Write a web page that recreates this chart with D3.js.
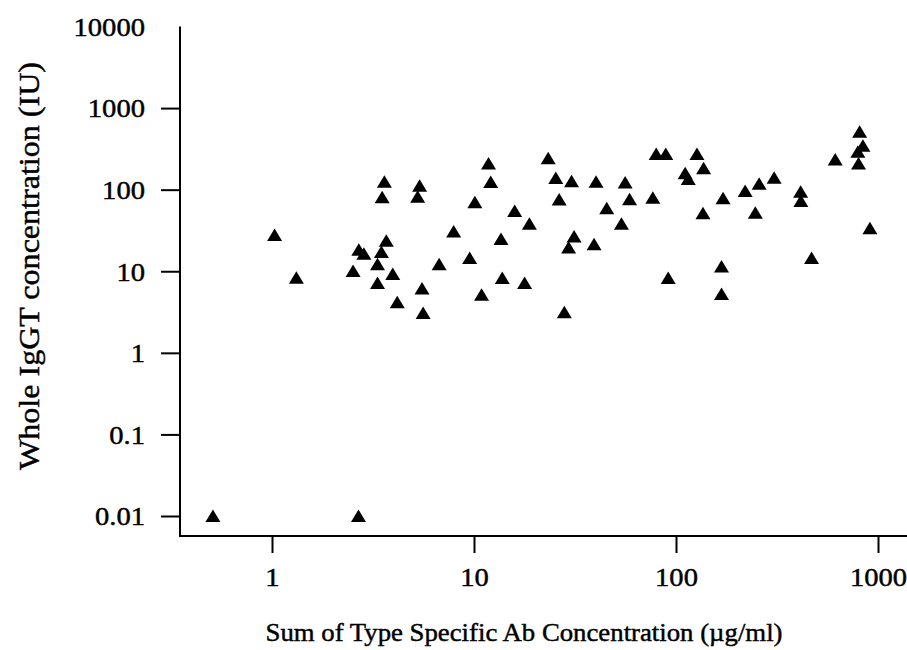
<!DOCTYPE html>
<html>
<head>
<meta charset="utf-8">
<script src="https://cdn.jsdelivr.net/npm/d3@7"></script>
<style>
  html, body { margin: 0; padding: 0; background: #fff; }
  svg { display: block; }
  text { font-family: "Liberation Serif", "Times New Roman", Times, serif; fill: #000; stroke: #000; stroke-width: 0.45px; }
</style>
</head>
<body>
<svg id="chart" width="907" height="650"></svg>
<script>
// Data
const sumTypeSpecificAb = [0.51,2.68,1.03,1.32,2.69,2.85,2.52,3.60,3.51,5.38,5.26,11.8,12.1,10.1,23.3,25.4,26.4,15.9,18.8,7.93,3.68,3.48,3.33,3.96,6.72,9.52,13.6,3.33,5.53,13.8,17.8,10.9,4.17,5.60,28.0,30.4,40.2,56.0,58.9,76.8,45.4,53.7,31.3,29.4,39.3,79.8,89.0,127,137,111,115,220,171,136,168,91.5,168,811,842,795,801,614,306,258,247,414,415,912,469];
const wholeIgGT = [0.01,0.01,27.9,8.33,18.3,16.4,10.1,125,80.7,112,82.1,210,124,70.2,242,139,75.7,54.9,38.1,30.7,23.6,17.2,12.2,9.24,12.2,14.5,24.8,7.17,6.16,8.26,7.17,5.16,4.16,3.08,3.14,127,125,122,76.3,79.8,59.2,38.1,26.6,19.5,21.5,273,273,273,183,159,135,96.4,78.5,51.4,11.4,8.26,5.26,512,345,291,210,235,140,118,52.3,94.5,72.8,33.7,14.5];
const xTickValues = [1, 10, 100, 1000];
const xTickLabels = ["1", "10", "100", "1000"];
const yTickValues = [0.01, 0.1, 1, 10, 100, 1000, 10000];
const yTickLabels = ["0.01", "0.1", "1", "10", "100", "1000", "10000"];
const xTitle = "Sum of Type Specific Ab Concentration (\u00b5g/ml)";
const yTitle = "Whole IgGT concentration (IU)";

const points = sumTypeSpecificAb.map((v, i) => ({ x: v, y: wholeIgGT[i] }));

const svg = d3.select("#chart");
const axisLeftX = 180, axisBottomY = 536, axisTopY = 26.5, axisRightX = 907;
const stretch = 1.1;

const x = d3.scaleLog().domain([1, 1000]).range([272, 878]);
const y = d3.scaleLog().domain([0.01, 10000]).range([516, 26.5]);

// axis lines
svg.append("line").attr("x1", axisLeftX).attr("x2", axisLeftX)
  .attr("y1", axisTopY).attr("y2", axisBottomY + 1)
  .attr("stroke", "#000").attr("stroke-width", 2);
svg.append("line").attr("x1", axisLeftX - 1).attr("x2", axisRightX)
  .attr("y1", axisBottomY).attr("y2", axisBottomY)
  .attr("stroke", "#000").attr("stroke-width", 2);

// x axis
const gx = svg.append("g").attr("transform", `translate(0,${axisBottomY})`)
  .call(d3.axisBottom(x).tickValues(xTickValues).tickSize(17)
    .tickFormat((d, i) => xTickLabels[i]));
gx.attr("font-family", null).attr("font-size", null);
gx.select(".domain").remove();
gx.selectAll(".tick line").attr("stroke", "#000").attr("stroke-width", 2);
gx.selectAll(".tick text")
  .attr("y", 50).attr("dy", 0)
  .attr("font-size", 26)
  .attr("transform", `scale(${stretch},1)`);

// y axis
const gy = svg.append("g").attr("transform", `translate(${axisLeftX},0)`)
  .call(d3.axisLeft(y).tickValues(yTickValues).tickSize(19)
    .tickFormat((d, i) => yTickLabels[i]));
gy.attr("font-family", null).attr("font-size", null);
gy.select(".domain").remove();
gy.selectAll(".tick line").attr("stroke", "#000").attr("stroke-width", 2)
  .filter(d => d === 10000).remove();
gy.selectAll(".tick text")
  .attr("x", -35 / stretch).attr("dy", "0.34em")
  .attr("font-size", 26)
  .attr("text-anchor", "end")
  .attr("transform", `scale(${stretch},1)`);

// titles
svg.append("text")
  .attr("x", 524).attr("y", 641)
  .attr("text-anchor", "middle")
  .attr("font-size", 26)
  .attr("textLength", 517).attr("lengthAdjust", "spacingAndGlyphs")
  .text(xTitle);

svg.append("text")
  .attr("transform", `translate(39,266) rotate(-90)`)
  .attr("text-anchor", "middle")
  .attr("font-size", 30)
  .attr("textLength", 408).attr("lengthAdjust", "spacingAndGlyphs")
  .text(yTitle);

// points
const tri = "M0,-6.5L7.5,6L-7.5,6Z";
svg.append("g").selectAll("path").data(points).join("path")
  .attr("d", tri)
  .attr("transform", d => `translate(${x(d.x)},${y(d.y)})`)
  .attr("fill", "#000");
</script>
</body>
</html>
